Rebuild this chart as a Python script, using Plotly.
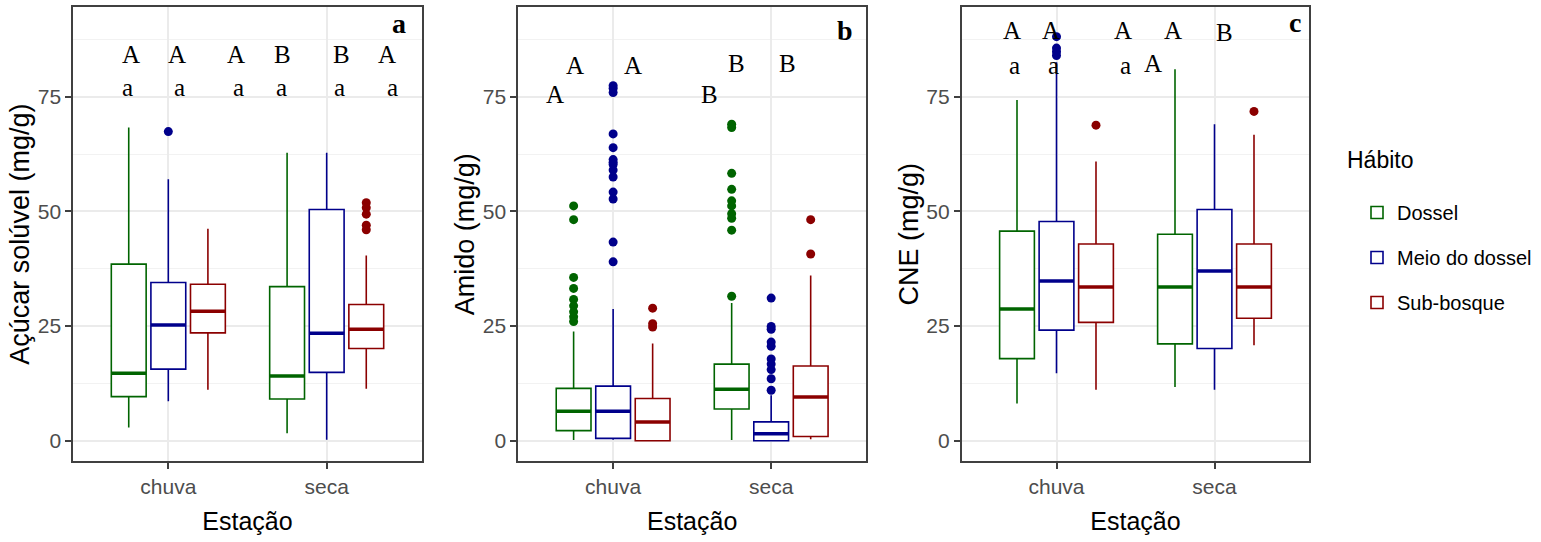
import plotly.graph_objects as go

# ---------------- data ----------------
seasons = ["chuva", "seca"]
habits = ["Dossel", "Meio do dossel", "Sub-bosque"]
habit_colors = ["#006400", "#00008B", "#8B0000"]
legend_title = "Hábito"

# Panel a: Açúcar solúvel (mg/g) -- per habit: [chuva, seca]
acucar_lower = [[2.9, 1.6], [8.6, 0.2], [11.1, 11.3]]
acucar_q1 = [[9.6, 9.1], [15.6, 14.9], [23.5, 20.1]]
acucar_median = [[14.7, 14.1], [25.2, 23.4], [28.2, 24.3]]
acucar_q3 = [[38.5, 33.6], [34.5, 50.4], [34.1, 29.7]]
acucar_upper = [[68.3, 62.8], [57.0, 62.8], [46.2, 40.4]]
acucar_outliers = [[[], []], [[67.4], []], [[], [51.9, 50.8, 49.4, 47.0, 46.0]]]

# Panel b: Amido (mg/g)
amido_lower = [[0.15, 0.15], [0.2, 0.0], [0.0, 0.3]]
amido_q1 = [[2.2, 6.9], [0.5, 0.0], [0.0, 0.9]]
amido_median = [[6.4, 11.2], [6.4, 1.5], [4.1, 9.5]]
amido_q3 = [[11.4, 16.7], [11.9, 4.1], [9.2, 16.3]]
amido_upper = [[23.8, 30.0], [28.7, 9.9], [21.2, 36.0]]
amido_outliers = [
    [[51.2, 48.2, 35.6, 33.2, 30.8, 29.4, 28.1, 27.0, 26.0],
     [69.0, 68.3, 58.3, 54.8, 52.3, 51.2, 49.5, 48.5, 45.9, 31.5]],
    [[77.4, 76.8, 75.9, 66.9, 63.9, 61.3, 60.7, 60.2, 59.0, 57.5, 54.2, 52.7, 43.3, 39.0],
     [31.1, 24.9, 24.3, 21.5, 20.6, 17.8, 16.7, 15.5, 13.5, 11.0]],
    [[28.9, 25.5, 24.8], [48.2, 40.7]],
]

# Panel c: CNE (mg/g)
cne_lower = [[8.1, 11.7], [14.7, 11.1], [11.1, 20.8]]
cne_q1 = [[17.9, 21.1], [24.1, 20.1], [25.8, 26.7]]
cne_median = [[28.7, 33.5], [34.8, 37.0], [33.5, 33.5]]
cne_q3 = [[45.7, 45.0], [47.8, 50.4], [42.9, 42.9]]
cne_upper = [[74.3, 81.0], [82.5, 69.0], [60.9, 66.7]]
cne_outliers = [[[], []], [[88.1, 85.6, 84.8, 84.0], []], [[68.8], [71.8]]]

# significance letters
acucar_letters = ["A", "A", "A", "B", "B", "A", "a", "a", "a", "a", "a", "a"]
acucar_letter_x = [0.766, 1.055, 1.429, 1.724, 2.092, 2.381, 0.741, 1.072, 1.440, 1.714, 2.082, 2.414]
acucar_letter_y = [84.1] * 6 + [77.0] * 6
amido_letters = ["A", "A", "A", "B", "B", "B"]
amido_letter_x = [0.632, 0.759, 1.128, 1.609, 1.782, 2.102]
amido_letter_y = [75.5, 81.9, 81.9, 75.5, 82.3, 82.3]
cne_letters = ["A", "A", "A", "A", "B", "a", "a", "a", "A"]
cne_letter_x = [0.716, 0.963, 1.423, 1.739, 2.066, 0.737, 0.984, 1.434, 1.613]
cne_letter_y = [89.4, 89.4, 89.4, 89.4, 89.0, 81.9, 81.9, 81.9, 82.3]

panel_tags = ["a", "b", "c"]
panel_tag_x = [2.455, 2.467, 2.509]
panel_tag_y = [91.0, 89.5, 91.2]

y_titles = ["Açúcar solúvel (mg/g)", "Amido (mg/g)", "CNE (mg/g)"]
x_title = "Estação"

panels = [
    dict(lower=acucar_lower, q1=acucar_q1, med=acucar_median, q3=acucar_q3,
         upper=acucar_upper, out=acucar_outliers,
         letters=acucar_letters, lx=acucar_letter_x, ly=acucar_letter_y),
    dict(lower=amido_lower, q1=amido_q1, med=amido_median, q3=amido_q3,
         upper=amido_upper, out=amido_outliers,
         letters=amido_letters, lx=amido_letter_x, ly=amido_letter_y),
    dict(lower=cne_lower, q1=cne_q1, med=cne_median, q3=cne_q3,
         upper=cne_upper, out=cne_outliers,
         letters=cne_letters, lx=cne_letter_x, ly=cne_letter_y),
]

# ---------------- layout constants ----------------
W, H = 1541, 542
DODGE = 0.25
BOX_W = 0.22
x_domains = [(73.3 / W, 421.7 / W), (518.3 / W, 866.0 / W), (961.7 / W, 1309.3 / W)]
y_domain = (1 - 461.0 / H, 1 - 7.3 / H)
SANS = "Liberation Sans, Arial, sans-serif"
SERIF = "Liberation Serif, Times New Roman, serif"
FRAME = "#404040"

fig = go.Figure()
annotations = []

for pi, p in enumerate(panels):
    suffix = "" if pi == 0 else str(pi + 1)
    xa, ya = "x" + suffix, "y" + suffix
    for g, habit in enumerate(habits):
        col = habit_colors[g]
        for s, season in enumerate(seasons):
            pos = s + 1 + (g - 1) * DODGE
            fig.add_trace(go.Box(
                x=[pos], orientation="v",
                q1=[p["q1"][g][s]], median=[p["med"][g][s]], q3=[p["q3"][g][s]],
                lowerfence=[p["lower"][g][s]], upperfence=[p["upper"][g][s]],
                width=BOX_W, whiskerwidth=0, boxpoints=False,
                fillcolor="white", line=dict(color=col, width=1.6),
                name=habit, legendgroup=habit,
                showlegend=(pi == 0 and s == 0),
                xaxis=xa, yaxis=ya,
            ))
            # thick median line
            fig.add_trace(go.Scatter(
                x=[pos - BOX_W / 2, pos + BOX_W / 2],
                y=[p["med"][g][s], p["med"][g][s]],
                mode="lines", line=dict(color=col, width=3.5),
                showlegend=False, hoverinfo="skip", xaxis=xa, yaxis=ya,
            ))
            outs = p["out"][g][s]
            if outs:
                fig.add_trace(go.Scatter(
                    x=[pos] * len(outs), y=outs, mode="markers",
                    marker=dict(color=col, size=9),
                    showlegend=False, xaxis=xa, yaxis=ya,
                ))
    for t, lx, ly in zip(p["letters"], p["lx"], p["ly"]):
        annotations.append(dict(x=lx, y=ly, xref=xa, yref=ya, text=t, showarrow=False,
                                font=dict(family=SERIF, size=25, color="black"),
                                xanchor="center", yanchor="middle"))
    annotations.append(dict(x=panel_tag_x[pi], y=panel_tag_y[pi], xref=xa, yref=ya,
                            text="<b>%s</b>" % panel_tags[pi], showarrow=False,
                            font=dict(family=SERIF, size=28, color="black"),
                            xanchor="center", yanchor="middle"))

    axis_common = dict(showline=True, mirror=True, linecolor=FRAME, linewidth=1.8,
                       ticks="outside", ticklen=6, tickwidth=1.5, tickcolor=FRAME,
                       showgrid=True, gridcolor="#ebebeb", gridwidth=1.5,
                       zeroline=False,
                       tickfont=dict(family=SANS, size=21, color="#4d4d4d"))
    fig.update_layout(**{
        "xaxis" + suffix: dict(
            axis_common, domain=list(x_domains[pi]), range=[0.4, 2.6],
            tickvals=[1, 2], ticktext=seasons, anchor=ya,
            title=dict(text=x_title, font=dict(family=SANS, size=25, color="black"),
                       standoff=15),
        ),
        "yaxis" + suffix: dict(
            axis_common, domain=list(y_domain), range=[-4.43, 94.5],
            tickvals=[0, 25, 50, 75], anchor=xa,
            minor=dict(tickvals=[12.5, 37.5, 62.5, 87.5], showgrid=True,
                       gridcolor="#f2f2f2", gridwidth=1),
            title=dict(text=y_titles[pi], font=dict(family=SANS, size=27, color="black"),
                       standoff=0),
        ),
    })

# legend title placed as text above the legend entries
annotations.append(dict(x=1345 / W, y=1 - 160 / H, xref="paper", yref="paper",
                        text=legend_title, showarrow=False, xanchor="left", yanchor="middle",
                        font=dict(family=SANS, size=23, color="black")))

fig.update_layout(
    width=W, height=H,
    margin=dict(l=0, r=0, t=0, b=0),
    paper_bgcolor="white", plot_bgcolor="white",
    boxmode="overlay",
    showlegend=True,
    legend=dict(
        x=1357 / W, y=1 - 193 / H, xanchor="left", yanchor="top",
        font=dict(family=SANS, size=20, color="black"),
        tracegroupgap=16, bgcolor="rgba(0,0,0,0)",
    ),
    annotations=annotations,
)

fig.write_html("out.html")
